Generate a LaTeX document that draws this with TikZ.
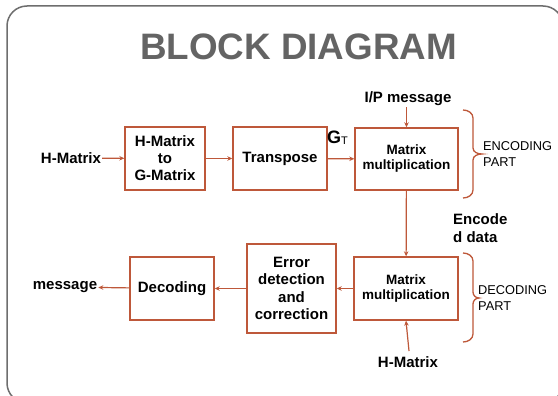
\documentclass[tikz,border=0pt]{standalone}
\usepackage{fontspec}
\setmainfont{Liberation Sans}
\usetikzlibrary{arrows.meta}
\definecolor{rust}{RGB}{190,88,58}
\definecolor{framegray}{RGB}{110,110,110}
\definecolor{titlegray}{RGB}{100,100,100}
\tikzset{
  blk/.style={draw=rust, line width=1.4pt, align=center, inner sep=2pt,
    font=\fontsize{15}{17}\selectfont\bfseries},
  lbl/.style={inner sep=1pt, font=\fontsize{15}{18}\selectfont\bfseries},
  part/.style={inner sep=0pt, align=left, anchor=west,
    font=\fontsize{12.8}{16}\selectfont},
  arr/.style={draw=rust, line width=1.2pt, -{Stealth[length=5pt,width=4.5pt]}},
  brc/.style={draw=rust, line width=1.3pt}
}
\begin{document}
\begin{tikzpicture}[x=1pt,y=-1pt]
\useasboundingbox (0,0) rectangle (558,396);
\clip (0,0) rectangle (558,396);
\fill[white] (0,0) rectangle (558,396);
% slide frame
\draw[framegray, line width=1.5pt, rounded corners=20pt] (7,6) rectangle (563,403);
% title
\node[text=titlegray, font=\fontsize{36.8}{40}\selectfont\bfseries] (title) at (298.5,47) {BLOCK DIAGRAM};

% encoding chain
\node[blk, minimum width=80pt, minimum height=63pt] (hg) at (165,158.5) {H-Matrix\\to\\G-Matrix};
\node[blk, minimum width=94pt, minimum height=63pt] (tr) at (280,158.5) {Transpose};
\node[blk, minimum width=103pt, minimum height=62pt,
      font=\fontsize{13.5}{15}\selectfont\bfseries] (m1) at (406.5,159) {Matrix\\multiplication};

% decoding chain
\node[blk, minimum width=104pt, minimum height=63pt,
      font=\fontsize{13.5}{15}\selectfont\bfseries] (m2) at (406,288.5) {Matrix\\multiplication};
\node[blk, minimum width=89pt, minimum height=89pt,
      font=\fontsize{15}{17.6}\selectfont\bfseries] (ed) at (291.5,288.5) {Error\\detection\\and\\correction};
\node[blk, minimum width=84pt, minimum height=63pt] (dc) at (172,288.5) {Decoding};

% free labels
\node[lbl] (hin) at (71,158) {H-Matrix};
\node[lbl] (ip) at (408,99) {I/P message};
\node[inner sep=0pt, anchor=base west] (gt) at (327,144)
  {\fontsize{18}{18}\selectfont\bfseries G\raisebox{-1pt}{\fontsize{11}{11}\selectfont\mdseries T}};
\node[lbl, align=left, anchor=west] (enc) at (452,228) {Encode\\d data};
\node[lbl] (hin2) at (408,362) {H-Matrix};
\node[lbl] (msg) at (65,287) {message};

% connectors
\draw[arr] (hin) -- (hg);
\draw[arr] (hg) -- (tr);
\draw[arr] (tr) -- (m1);
\draw[arr] (m1.north |- ip.south) -- (m1.north);
\draw[arr] (m1) -- (m2);
\draw[arr] (m2) -- (ed);
\draw[arr] (ed) -- (dc);
\draw[arr] (dc) -- (msg);
\coordinate (hbot) at (409,351);
\draw[arr] (hbot) -- (m2.south);

% part braces
\coordinate (b1t) at (463,110);
\coordinate (b1b) at (463,198);
\draw[brc] (b1t) to[out=0,in=90] (473,118) -- (473,148)
  to[out=-90,in=180] (482,154) to[out=180,in=90] (473,160) -- (473,190)
  to[out=-90,in=0] (b1b);
\node[part] (encp) at (483,154) {ENCODING\\PART};

\coordinate (b2t) at (463,253);
\coordinate (b2b) at (463,342);
\draw[brc] (b2t) to[out=0,in=90] (473,261) -- (473,292)
  to[out=-90,in=180] (479,298) to[out=180,in=90] (473,304) -- (473,334)
  to[out=-90,in=0] (b2b);
\node[part] (decp) at (478,298) {DECODING\\PART};
\end{tikzpicture}
\end{document}
